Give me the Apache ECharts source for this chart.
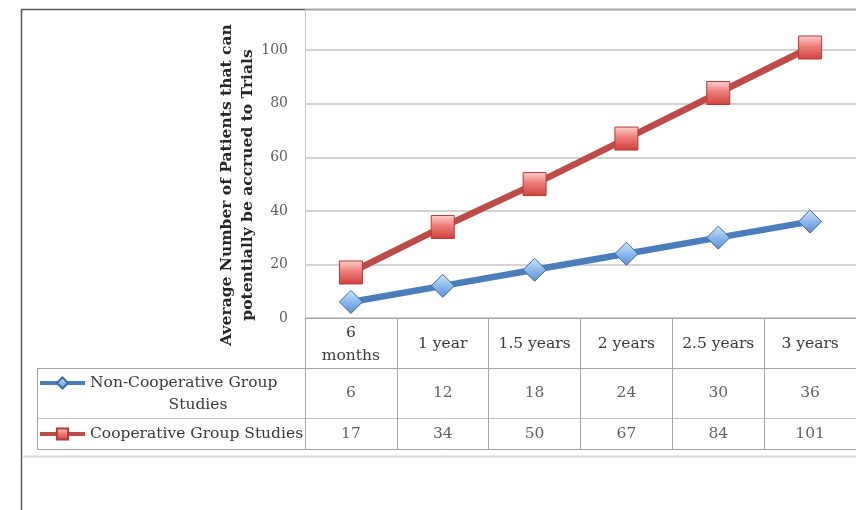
<!DOCTYPE html>
<html>
<head>
<meta charset="utf-8">
<title>Average Number of Patients that can potentially be accrued to Trials</title>
<script src="https://cdn.jsdelivr.net/npm/echarts@6/dist/echarts.min.js"></script>
<style>
  html, body { margin: 0; padding: 0; background: #ffffff; }
  #chart { width: 856px; height: 510px; }
</style>
</head>
<body>
<div id="chart"></div>
<script>
// Time horizons shown along the horizontal axis / table header
const periods = ['6\nmonths', '1 year', '1.5 years', '2 years', '2.5 years', '3 years'];
// Average patients per series
const nonCoopValues = [6, 12, 18, 24, 30, 36];
const coopValues = [17, 34, 50, 67, 84, 101];
const seriesNames = ['Non-Cooperative Group Studies', 'Cooperative Group Studies'];
// Value-axis ticks
const yTickStep = 20;
const yMax = 115;

const FONT = 'DejaVu Serif';
const GRID_LEFT = 305, GRID_W = 558;
const TABLE_FS = 15.5;
const LEGEND_FS = 15.5;
const tableLine = '#a6a6a6';
const textColor = '#3a3a3a';

const chart = echarts.init(document.getElementById('chart'), null, { renderer: 'canvas' });

const redFill = new echarts.graphic.LinearGradient(0, 0, 0, 1, [
  { offset: 0, color: '#fbd3d1' },
  { offset: 0.45, color: '#ee7d79' },
  { offset: 1, color: '#d0403c' }
]);
const blueFill = new echarts.graphic.LinearGradient(0, 0, 0, 1, [
  { offset: 0, color: '#d4e6fb' },
  { offset: 0.5, color: '#8db8ec' },
  { offset: 1, color: '#5a8fd3' }
]);

// Table row: invisible points whose labels print the values in each cell
function tableRow(values, gridIdx) {
  return {
    type: 'scatter',
    xAxisIndex: gridIdx,
    yAxisIndex: gridIdx,
    silent: true,
    symbolSize: 1,
    itemStyle: { color: 'transparent' },
    label: {
      show: true,
      position: 'inside',
      formatter: p => String(values[p.dataIndex]),
      fontFamily: FONT,
      fontSize: TABLE_FS,
      color: textColor
    },
    data: values.map((v, i) => [i, 0.5])
  };
}

function rowAxes(gridIdx) {
  return {
    x: {
      type: 'category', gridIndex: gridIdx, data: periods, boundaryGap: true,
      axisLine: { show: false }, axisTick: { show: false }, axisLabel: { show: false },
      splitLine: { show: true, interval: 0, lineStyle: { color: tableLine, width: 1 } }
    },
    y: { type: 'value', gridIndex: gridIdx, min: 0, max: 1, show: false }
  };
}
const r1 = rowAxes(1), r2 = rowAxes(2);

const option = {
  backgroundColor: '#ffffff',
  animation: false,
  grid: [
    { left: GRID_LEFT, top: 10, width: GRID_W, height: 308 },
    { left: GRID_LEFT, top: 368, width: GRID_W, height: 50 },
    { left: GRID_LEFT, top: 418, width: GRID_W, height: 31 }
  ],
  xAxis: [
    {
      type: 'category', gridIndex: 0, data: periods, boundaryGap: true,
      axisLine: { show: true, lineStyle: { color: tableLine, width: 1 } },
      axisTick: { show: true, interval: 0, length: 50, lineStyle: { color: tableLine, width: 1 } },
      axisLabel: {
        interval: 0, margin: 26, verticalAlign: 'middle',
        fontFamily: FONT, fontSize: TABLE_FS, color: textColor, lineHeight: 23
      }
    },
    r1.x, r2.x
  ],
  yAxis: [
    {
      type: 'value', gridIndex: 0, min: 0, max: yMax, interval: yTickStep,
      axisLine: { show: true, lineStyle: { color: '#c8c8c8', width: 1 } },
      axisTick: { show: false },
      axisLabel: { showMaxLabel: false, margin: 17, fontFamily: FONT, fontSize: 14, color: '#606060' },
      splitLine: { show: true, lineStyle: { color: '#c4c4c4', width: 1.5 } }
    },
    r1.y, r2.y
  ],
  legend: [
    {
      data: [seriesNames[0]], left: 38, top: 353, orient: 'vertical',
      selectedMode: false, itemWidth: 45, itemHeight: 14, padding: 0,
      lineStyle: { width: 4 },
      formatter: () => '{p| }\n{a|Non-Cooperative Group}\n{b|Studies}',
      textStyle: {
        fontFamily: FONT, fontSize: LEGEND_FS, color: textColor,
        rich: {
          p: { lineHeight: 22, fontSize: LEGEND_FS },
          a: { lineHeight: 22, fontFamily: FONT, fontSize: LEGEND_FS, color: textColor },
          b: { width: 216, align: 'center', lineHeight: 22, fontFamily: FONT, fontSize: LEGEND_FS, color: textColor }
        }
      }
    },
    {
      data: [seriesNames[1]], left: 38, top: 426, orient: 'vertical',
      selectedMode: false, itemWidth: 45, itemHeight: 14, padding: 0,
      lineStyle: { width: 4 },
      textStyle: { fontFamily: FONT, fontSize: LEGEND_FS, color: textColor }
    }
  ],
  series: [
    {
      name: seriesNames[0], type: 'line', xAxisIndex: 0, yAxisIndex: 0,
      data: nonCoopValues, symbol: 'diamond', symbolSize: 23,
      lineStyle: { color: '#4a7ebb', width: 6.5 },
      itemStyle: { color: blueFill, borderColor: '#3a6ba6', borderWidth: 1 },
      z: 3
    },
    {
      name: seriesNames[1], type: 'line', xAxisIndex: 0, yAxisIndex: 0,
      data: coopValues, symbol: 'rect', symbolSize: 23,
      lineStyle: { color: '#be4b48', width: 6.5 },
      itemStyle: { color: redFill, borderColor: '#b23b38', borderWidth: 1 },
      z: 4
    },
    tableRow(nonCoopValues, 1),
    tableRow(coopValues, 2)
  ],
  graphic: [
    // Outer frame
    { type: 'line', shape: { x1: 21.5, y1: 9, x2: 21.5, y2: 510 }, style: { stroke: '#555a60', lineWidth: 1.5 }, silent: true },
    { type: 'line', shape: { x1: 21, y1: 9.5, x2: 856, y2: 9.5 }, style: { stroke: '#555a60', lineWidth: 1.5 }, silent: true },
    { type: 'line', shape: { x1: 22, y1: 456.5, x2: 856, y2: 456.5 }, style: { stroke: '#d8d8d8', lineWidth: 2 }, silent: true },
    // Data table rules
    { type: 'line', shape: { x1: 37, y1: 368.5, x2: 856, y2: 368.5 }, style: { stroke: tableLine, lineWidth: 1 }, silent: true },
    { type: 'line', shape: { x1: 37, y1: 418.5, x2: 856, y2: 418.5 }, style: { stroke: '#c4c4c4', lineWidth: 1 }, silent: true },
    { type: 'line', shape: { x1: 37, y1: 449.5, x2: 856, y2: 449.5 }, style: { stroke: tableLine, lineWidth: 1 }, silent: true },
    { type: 'line', shape: { x1: 37.5, y1: 368, x2: 37.5, y2: 450 }, style: { stroke: tableLine, lineWidth: 1 }, silent: true },
    // Value-axis title
    {
      type: 'text', x: 237, y: 185, rotation: Math.PI / 2, silent: true,
      style: {
        text: 'Average Number of Patients that can\npotentially be accrued to Trials',
        fontFamily: FONT, fontWeight: 'bold', fontSize: 15.5, lineHeight: 21,
        fill: '#262626', align: 'center', verticalAlign: 'middle'
      }
    }
  ]
};

chart.setOption(option);
</script>
</body>
</html>
